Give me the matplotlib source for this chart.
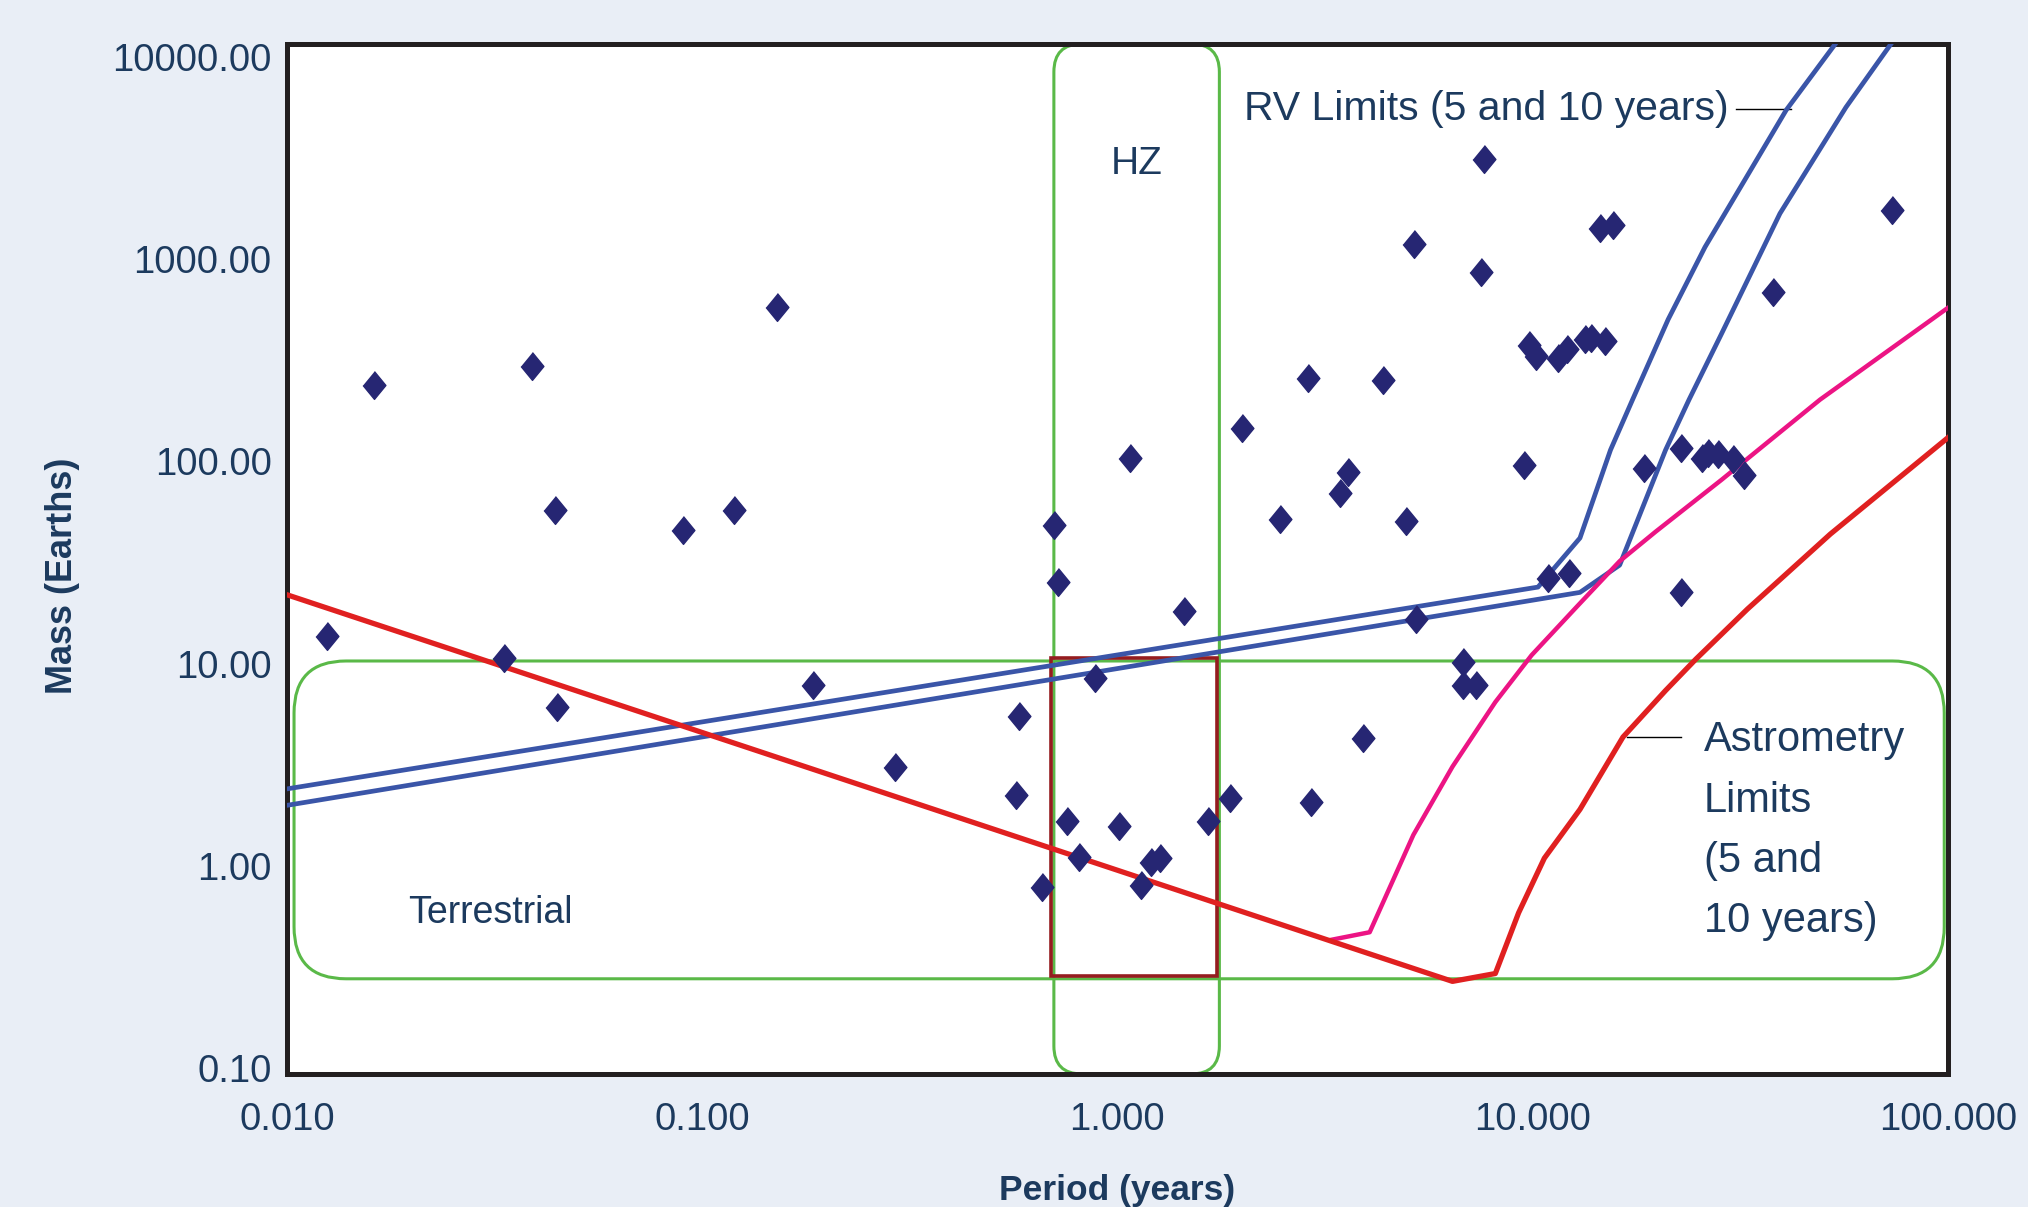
import matplotlib.pyplot as plt
from matplotlib.patches import FancyBboxPatch, Rectangle
from matplotlib.transforms import IdentityTransform
from matplotlib.ticker import NullLocator

# known planets: orbital period (years) and mass (Earth masses)
period = [0.0125, 0.0162, 0.0334, 0.039, 0.0442, 0.0448, 0.0897, 0.119, 0.151, 0.185,
          0.291, 0.571, 0.579, 0.659, 0.703, 0.719, 0.757, 0.807, 0.885, 1.007,
          1.074, 1.137, 1.205, 1.267, 1.45, 1.65, 1.87, 2.00, 2.47, 2.87,
          2.93, 3.43, 3.59, 3.91, 4.35, 4.96, 5.17, 5.25, 6.79, 6.79,
          7.29, 7.50, 7.62, 9.51, 9.79, 10.2, 10.9, 11.5, 12.1, 12.2,
          13.4, 13.8, 14.5, 14.9, 15.6, 18.5, 22.8, 22.8, 25.6, 26.4,
          27.9, 30.4, 32.2, 37.9, 73.5]
mass = [13.7, 238, 10.6, 296, 57.8, 6.08, 45.7, 57.8, 583, 7.8,
        3.09, 2.23, 5.48, 0.785, 48.4, 25.4, 1.66, 1.10, 8.53, 1.57,
        104, 0.80, 1.04, 1.09, 18.1, 1.66, 2.17, 146, 52, 259,
        2.07, 70, 88.7, 4.27, 252, 50.7, 1183, 16.6, 10.2, 7.8,
        7.8, 869, 3126, 95.5, 375, 333, 26.5, 324, 359, 28.1,
        403, 410, 1432, 392, 1476, 92.7, 22.5, 117, 104, 110,
        109, 103, 86, 686, 1762]

# RV detection limits (5 and 10 year baselines)
rv5_period = [0.01, 10.3, 13.0, 15.4, 17.4, 21.2, 26.0, 40.8, 57.3]
rv5_mass = [2.40, 23.9, 41.8, 114, 202, 504, 1148, 5470, 14000]
rv10_period = [0.01, 13.0, 16.2, 20.9, 23.8, 28.5, 39.4, 56.8, 77.8]
rv10_mass = [1.99, 22.5, 30.7, 114, 202, 428, 1683, 5640, 14000]

# astrometry detection limits (5 and 10 year baselines)
astro5_period = [0.01, 6.41, 8.13, 9.25, 10.67, 13.0, 16.5, 20.9, 24.7, 32.9, 52.1, 100]
astro5_mass = [21.9, 0.268, 0.293, 0.585, 1.09, 1.90, 4.33, 7.36, 10.5, 18.6, 43.7, 131]
astro10_period = [3.27, 4.05, 5.16, 6.41, 8.13, 9.94, 12.8, 16.2, 19.8, 28.5, 49.2, 100]
astro10_mass = [0.43, 0.469, 1.42, 3.09, 6.45, 11.0, 19.2, 32.1, 45.0, 81.1, 202, 575]

# regions
hz_period = (0.703, 1.76)
terr_period = (0.0104, 98)
terr_mass = (0.276, 10.3)
eta_period = (0.693, 1.74)
eta_mass = (0.284, 10.6)

xlim = (0.01, 100)
ylim = (10 ** -1.03, 10 ** 4.065)

BG = "#e9eef6"
TEXT = "#1c3a5e"
plt.rcParams["font.family"] = ["Liberation Sans", "DejaVu Sans"]

fig = plt.figure(figsize=(20.28, 12.07), dpi=100, facecolor=BG)
ax = fig.add_axes([0.1415, 0.1102, 0.819, 0.8534])
ax.set_xscale("log")
ax.set_yscale("log")
ax.set_xlim(*xlim)
ax.set_ylim(*ylim)


def rounded_box(p, m, radius, **kw):
    (x0, y0), (x1, y1) = ax.transData.transform([(p[0], m[0]), (p[1], m[1])])
    box = FancyBboxPatch((x0, y0), x1 - x0, y1 - y0,
                         boxstyle=f"round,pad=0,rounding_size={radius}",
                         transform=IdentityTransform(), fill=False, **kw)
    ax.add_patch(box)


rounded_box(terr_period, terr_mass, 52, edgecolor="#5ab948", linewidth=2.2, zorder=2)
rounded_box(hz_period, ylim, 28, edgecolor="#5ab948", linewidth=2.2, zorder=2)
ax.add_patch(Rectangle((eta_period[0], eta_mass[0]), eta_period[1] - eta_period[0],
                       eta_mass[1] - eta_mass[0], fill=False,
                       edgecolor="#951c1f", linewidth=2.6, zorder=2.5))

ax.plot(rv5_period, rv5_mass, color="#3a55a8", lw=3.4, zorder=3)
ax.plot(rv10_period, rv10_mass, color="#3a55a8", lw=3.4, zorder=3)
ax.plot(astro10_period, astro10_mass, color="#ec1484", lw=3.2, zorder=3)
ax.plot(astro5_period, astro5_mass, color="#e02020", lw=3.8, zorder=3.2)

diamond = [(0, 1), (0.82, 0), (0, -1), (-0.82, 0)]
ax.plot(period, mass, linestyle="none", marker=diamond, markersize=20,
        color="#262673", zorder=4)

# annotations
ax.text(1.11, 2944, "HZ", ha="center", va="center", fontsize=28, color=TEXT)
ax.text(2.02, 5545, "RV Limits (5 and 10 years)", ha="left", va="center",
        fontsize=29.5, color=TEXT)
ax.plot([30.8, 42.0], [5545, 5545], color="black", lw=1)
ax.text(0.0196, 0.585, "Terrestrial", ha="left", va="center", fontsize=27, color=TEXT)
ax.text(25.8, 1.49, "Astrometry\nLimits\n(5 and\n10 years)", ha="left", va="center",
        fontsize=30, color=TEXT, linespacing=1.66)
ax.plot([16.9, 22.8], [4.33, 4.33], color="black", lw=1)

ax.xaxis.set_minor_locator(NullLocator())
ax.yaxis.set_minor_locator(NullLocator())
ax.set_xticks([0.01, 0.1, 1, 10, 100])
ax.set_xticklabels(["0.010", "0.100", "1.000", "10.000", "100.000"])
ax.set_yticks([0.1, 1, 10, 100, 1000, 10000])
ax.set_yticklabels(["0.10", "1.00", "10.00", "100.00", "1000.00", "10000.00"])
ax.tick_params(axis="both", length=0, labelsize=27.5, labelcolor=TEXT)
ax.tick_params(axis="x", pad=20)
ax.tick_params(axis="y", pad=11)

for spine in ax.spines.values():
    spine.set_linewidth(3.6)
    spine.set_color("#231f20")

ax.set_xlabel("Period (years)", fontsize=25.5, fontweight="bold", color=TEXT)
ax.xaxis.set_label_coords(0.5, -0.097)
ax.set_ylabel("Mass (Earths)", fontsize=26, fontweight="bold", color=TEXT)
ax.yaxis.set_label_coords(-0.1246, 0.484)

fig.savefig("out.png", dpi=100, facecolor=BG)
